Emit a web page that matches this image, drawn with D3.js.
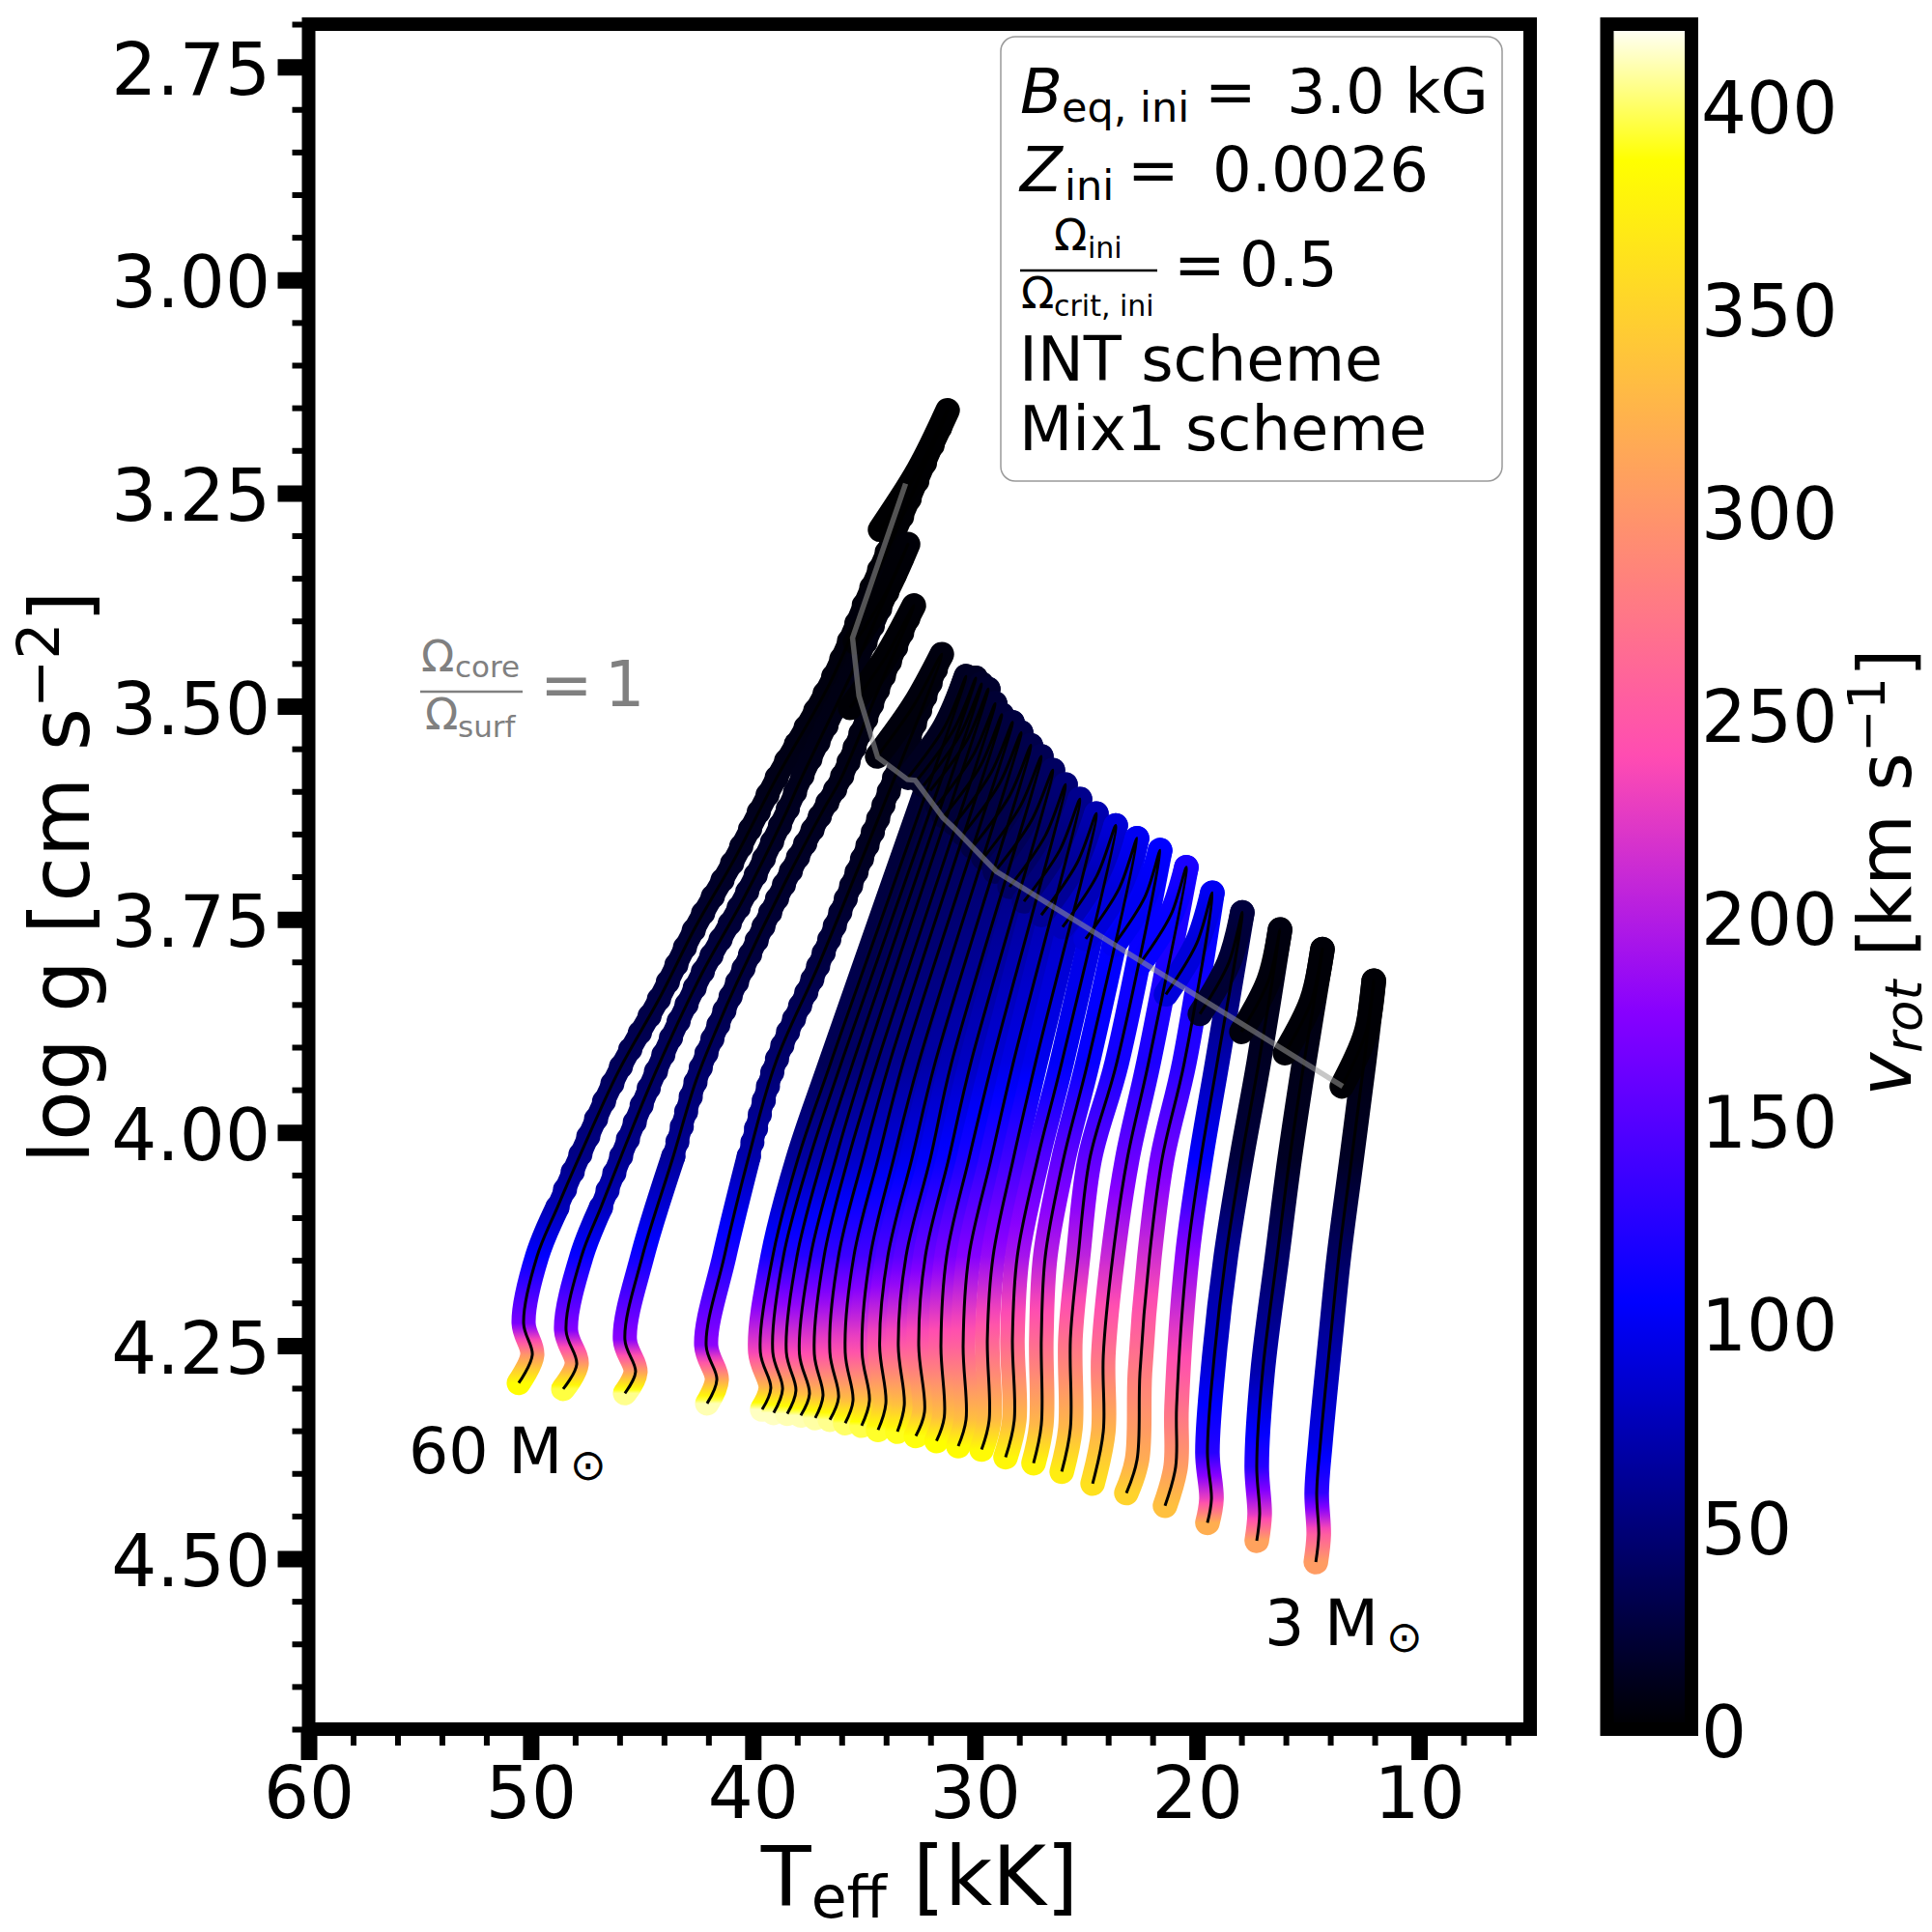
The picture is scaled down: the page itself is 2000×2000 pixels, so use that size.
<!DOCTYPE html>
<html>
<head>
<meta charset="utf-8">
<title>log g vs Teff tracks</title>
<style>
    body { margin: 0; background: #fff; }
    text { font-family: "DejaVu Sans", sans-serif; fill: #000; }
    .domain { display: none; }
</style>
</head>
<body>
<script src="https://cdn.jsdelivr.net/npm/d3@7"></script>
<script>
// values, one row per track, hot (60 Msun) to cool (3 Msun)
// each row runs from the start of the track to the turning point, the last
// two entries are the hook after the turning point
var trackTeff = [
    [50.54,49.93,50.32,49.71,48.80,47.80,46.06,44.19,42.58,40.84,38.97,36.49,34.75,33.53,31.23,32.53,34.27],
    [48.54,47.93,48.41,47.71,46.84,45.93,44.32,42.28,40.40,38.54,37.84,35.40,34.10,33.01,34.01,35.40],
    [45.76,45.28,45.76,44.97,43.58,42.58,41.62,40.71,38.53,36.79,36.05,34.31,32.75,34.01,35.62],
    [42.06,41.62,42.10,41.28,40.18,38.97,37.06,35.27,34.40,31.49,32.75,34.40],
    [39.58,39.19,39.66,39.10,37.97,36.49,30.40,31.36,33.01],
    [39.06,38.66,39.10,38.62,37.45,36.01,29.96,30.92,32.58],
    [38.45,38.06,38.49,38.01,36.88,35.49,29.70,30.66,32.31],
    [37.84,37.45,37.90,37.40,36.27,34.97,29.40,30.36,32.01],
    [37.19,36.84,37.23,36.79,35.71,34.40,29.09,30.05,31.70],
    [36.53,36.14,36.53,36.14,35.05,33.84,28.79,29.75,31.40],
    [35.84,35.49,35.84,35.45,34.36,33.23,28.31,29.27,30.92],
    [35.10,34.75,35.08,34.71,33.66,32.53,27.92,28.88,30.53],
    [34.36,34.01,34.29,33.92,32.84,31.79,27.48,28.44,30.10],
    [33.49,33.18,33.45,33.10,32.01,31.05,27.01,27.97,29.62],
    [32.66,32.27,32.53,32.23,31.18,30.18,26.49,27.45,29.10],
    [31.73,31.38,31.53,31.27,30.27,29.22,25.92,26.83,28.44],
    [30.75,30.40,30.53,30.27,29.27,28.27,25.27,26.18,27.79],
    [29.70,29.36,29.44,29.18,28.27,27.27,24.53,25.42,27.01],
    [28.62,28.23,28.31,28.09,27.18,26.09,23.66,24.51,26.05],
    [27.36,27.01,27.01,26.83,26.01,24.92,22.70,23.51,25.01],
    [26.09,25.70,25.70,25.35,24.83,23.61,21.66,22.35,23.74],
    [24.70,24.22,24.22,23.79,23.14,22.18,20.48,21.18,22.57],
    [23.18,22.70,22.57,22.14,21.57,20.57,19.31,20.01,21.40],
    [21.44,20.96,20.92,20.44,19.83,19.09,17.96,18.57,19.87],
    [19.53,19.35,19.53,19.22,18.70,18.00,17.22,16.26,16.78,18.00],
    [17.31,17.18,17.31,17.05,16.39,15.83,15.18,14.35,14.85,16.04],
    [14.65,14.52,14.61,14.44,13.99,13.61,13.04,12.48,12.04,12.41,13.48]
];
var trackLogg = [
    [4.294,4.261,4.224,4.145,4.088,4.028,3.929,3.842,3.759,3.680,3.586,3.471,3.366,3.293,3.153,3.222,3.293],
    [4.301,4.272,4.232,4.145,4.088,4.028,3.926,3.813,3.725,3.627,3.586,3.453,3.376,3.310,3.367,3.425],
    [4.306,4.281,4.243,4.145,4.028,3.941,3.878,3.824,3.706,3.620,3.586,3.478,3.382,3.442,3.502],
    [4.318,4.290,4.250,4.145,4.028,3.918,3.805,3.691,3.635,3.439,3.499,3.559],
    [4.325,4.300,4.258,4.145,4.031,3.918,3.465,3.524,3.584],
    [4.329,4.301,4.258,4.145,4.031,3.918,3.467,3.526,3.586],
    [4.330,4.303,4.258,4.145,4.031,3.918,3.474,3.533,3.593],
    [4.332,4.307,4.260,4.145,4.031,3.918,3.480,3.540,3.599],
    [4.335,4.309,4.260,4.145,4.031,3.918,3.497,3.556,3.616],
    [4.337,4.311,4.258,4.145,4.031,3.918,3.510,3.570,3.629],
    [4.341,4.315,4.258,4.145,4.031,3.918,3.519,3.578,3.638],
    [4.344,4.315,4.258,4.145,4.031,3.918,3.531,3.590,3.650],
    [4.349,4.318,4.250,4.145,4.031,3.918,3.546,3.605,3.665],
    [4.351,4.320,4.250,4.145,4.031,3.918,3.559,3.618,3.678],
    [4.356,4.328,4.250,4.145,4.031,3.918,3.575,3.634,3.694],
    [4.362,4.334,4.250,4.145,4.031,3.918,3.592,3.652,3.712],
    [4.368,4.337,4.250,4.145,4.031,3.918,3.609,3.669,3.729],
    [4.372,4.338,4.242,4.145,4.031,3.918,3.626,3.685,3.745],
    [4.381,4.338,4.242,4.145,4.031,3.918,3.640,3.699,3.759],
    [4.388,4.343,4.242,4.145,4.031,3.918,3.655,3.714,3.773],
    [4.398,4.347,4.242,4.145,4.031,3.918,3.669,3.724,3.780],
    [4.412,4.351,4.262,4.145,4.031,3.918,3.689,3.745,3.802],
    [4.423,4.384,4.282,4.145,4.031,3.918,3.719,3.778,3.838],
    [4.438,4.392,4.322,4.145,4.031,3.918,3.742,3.801,3.861],
    [4.458,4.430,4.376,4.262,4.145,4.031,3.918,3.762,3.822,3.882],
    [4.479,4.448,4.392,4.282,4.145,4.031,3.918,3.785,3.846,3.907],
    [4.504,4.472,4.423,4.363,4.242,4.145,4.031,3.918,3.822,3.884,3.946]
];
var trackVrot = [
    [385,300,170,105,75,55,38,28,20,15,10,6,4,2,1,1,1],
    [395,305,175,108,78,58,40,28,20,14,11,7,5,3,2,2],
    [405,310,178,112,62,45,36,28,18,12,10,6,3,2,2],
    [410,315,180,118,70,45,28,15,12,6,5,5],
    [412,330,235,115,62,36,14,13,13],
    [412,330,238,118,66,38,15,14,14],
    [410,332,240,120,70,42,17,15,15],
    [410,332,240,124,74,46,19,17,17],
    [408,332,242,128,78,50,22,19,19],
    [405,334,243,132,82,54,24,21,21],
    [400,335,245,136,87,58,26,23,23],
    [396,336,246,140,92,62,28,26,26],
    [392,336,248,146,97,68,31,28,28],
    [390,336,250,152,103,74,34,31,31],
    [388,335,252,160,108,80,40,36,36],
    [386,335,255,168,118,88,48,42,42],
    [384,334,256,176,128,94,58,50,50],
    [382,332,258,184,138,98,72,62,62],
    [380,330,260,192,148,102,88,76,76],
    [378,328,262,200,155,108,100,90,90],
    [372,328,268,205,155,115,105,100,100],
    [362,325,272,210,160,120,118,108,108],
    [350,318,280,215,165,125,100,90,90],
    [335,305,270,180,105,72,25,22,20],
    [320,230,125,85,62,25,15,6,5,5],
    [310,225,125,72,42,15,10,3,3,3],
    [305,255,130,95,65,40,15,8,2,2,2]
];
// the grey core/surface line
var equalTeff = [33.12,35.51,35.22,34.38,33.04,32.69,31.43,30.94,29.04,13.44];
var equalLogg = [3.239,3.420,3.488,3.560,3.586,3.587,3.631,3.643,3.694,3.946];

var xMajor = [60,50,40,30,20,10];
var xMinor = [58,56,54,52,48,46,44,42,38,36,34,32,28,26,24,22,18,16,14,12,8,6];
var yMajor = [2.75,3.00,3.25,3.50,3.75,4.00,4.25,4.50];
var yMinor = [2.70,2.80,2.85,2.90,2.95,3.05,3.10,3.15,3.20,3.30,3.35,3.40,3.45,3.55,3.60,3.65,3.70,3.80,3.85,3.90,3.95,4.05,4.10,4.15,4.20,4.30,4.35,4.40,4.45,4.55,4.60,4.65,4.70];
var cbarTicks = [0,50,100,150,200,250,300,350,400];

// gnuplot2 colour map, with vmax 420
var vmax = 420;
var mapStops = [0,0.25,0.42,0.57,0.92,1];
var mapColors = ["#000000","#0000ff","#8700ff","#ff4cb2","#ffff00","#ffffff"];

var svg = d3.select("body").append("svg").attr("width", 2000).attr("height", 2000);
var defs = svg.append("defs");

var left = 319.5, right = 1584, top_ = 25, bottom = 1790;
var x = d3.scaleLinear().domain([60,5]).range([left,right]);
var y = d3.scaleLinear().domain([2.7,4.7]).range([top_,bottom]);
var color = d3.scaleLinear().domain(mapStops.map(function(t){ return t*vmax; })).range(mapColors).clamp(true);

var line = d3.line().x(function(d){ return x(d.t); }).y(function(d){ return y(d.g); }).curve(d3.curveCatmullRom.alpha(0.5));

function addGradient(id, pts) {
    // stops along the vertical, colour follows vrot of each read point
    var y0 = y(pts[0].g), y1 = y(pts[pts.length-1].g);
    var grad = defs.append("linearGradient").attr("id", id).attr("gradientUnits","userSpaceOnUse")
        .attr("x1",0).attr("x2",0).attr("y1",y0).attr("y2",y1);
    for (var i = 0; i < pts.length-1; i++) {
        for (var k = 0; k < 6; k++) {
            var f = k/6;
            var yy = y(pts[i].g) + f*(y(pts[i+1].g)-y(pts[i].g));
            grad.append("stop").attr("offset",(yy-y0)/(y1-y0)).attr("stop-color",color(pts[i].v+f*(pts[i+1].v-pts[i].v)));
        }
    }
    grad.append("stop").attr("offset",1).attr("stop-color",color(pts[pts.length-1].v));
}

var tracks = trackTeff.map(function(row,i){
    return row.map(function(t,j){ return {t:t, g:trackLogg[i][j], v:trackVrot[i][j]}; });
});

var ribbons = svg.append("g").attr("fill","none").attr("stroke-linecap","round").attr("stroke-linejoin","round");
// the first tracks have few models per step: the markers show as beads
var beadGap = [20,19,16,15];

tracks.forEach(function(pts,i){
    var main = pts.slice(0,pts.length-2);
    var hook = pts.slice(pts.length-3);
    addGradient("main"+i, main);
    addGradient("hook"+i, hook);
    if (i < 4) {
        ribbons.append("path").attr("d",line(main.slice(0,5))).attr("stroke","url(#main"+i+")").attr("stroke-width",25);
        ribbons.append("path").attr("d",line(main.slice(4))).attr("stroke","url(#main"+i+")").attr("stroke-width",22.5);
        ribbons.append("path").attr("d",line(main.slice(4))).attr("stroke","url(#main"+i+")").attr("stroke-width",25).attr("stroke-dasharray","0 "+beadGap[i]);
    } else {
        ribbons.append("path").attr("d",line(main)).attr("stroke","url(#main"+i+")").attr("stroke-width",25.5);
    }
    ribbons.append("path").attr("d",line(hook)).attr("stroke","url(#hook"+i+")").attr("stroke-width",25.5);
});

svg.append("g").selectAll("path").data(tracks).join("path")
    .attr("d",line).attr("fill","none").attr("stroke","#000").attr("stroke-width",3);

svg.append("path")
    .attr("d",d3.line().x(function(d,i){ return x(equalTeff[i]); }).y(function(d,i){ return y(equalLogg[i]); })(equalTeff))
    .attr("fill","none").attr("stroke","#999").attr("stroke-opacity",0.55).attr("stroke-width",5.5);

// axes
function styleTicks(g, w) {
    g.selectAll("line").attr("stroke","#000").attr("stroke-width",w);
    g.selectAll("text").style("font-size","74px");
}
var gx = svg.append("g").attr("transform","translate(0,"+bottom+")");
gx.call(d3.axisBottom(x).tickValues(xMinor).tickSize(17));
styleTicks(gx,6);
gx.selectAll("text").remove();
var gx2 = svg.append("g").attr("transform","translate(0,"+bottom+")");
gx2.call(d3.axisBottom(x).tickValues(xMajor).tickSize(32).tickPadding(7).tickFormat(d3.format("d")));
styleTicks(gx2,17);

var gy = svg.append("g").attr("transform","translate("+left+",0)");
gy.call(d3.axisLeft(y).tickValues(yMinor).tickSize(17));
styleTicks(gy,6);
gy.selectAll("text").remove();
var gy2 = svg.append("g").attr("transform","translate("+left+",0)");
gy2.call(d3.axisLeft(y).tickValues(yMajor).tickSize(32).tickPadding(7.5).tickFormat(d3.format(".2f")));
styleTicks(gy2,17);
gy2.selectAll("text").attr("dy","0.38em");

svg.append("rect").attr("x",left).attr("y",top_).attr("width",right-left).attr("height",bottom-top_)
    .attr("fill","none").attr("stroke","#000").attr("stroke-width",14);

// colour bar
var cbarLeft = 1663.5, cbarRight = 1751;
var cbar = d3.scaleLinear().domain([0,vmax]).range([bottom,top_]);
var cbarGrad = defs.append("linearGradient").attr("id","cbarGrad").attr("x1",0).attr("x2",0).attr("y1",1).attr("y2",0);
mapStops.forEach(function(t,i){ cbarGrad.append("stop").attr("offset",t).attr("stop-color",mapColors[i]); });
svg.append("rect").attr("x",cbarLeft).attr("y",top_).attr("width",cbarRight-cbarLeft).attr("height",bottom-top_)
    .attr("fill","url(#cbarGrad)").attr("stroke","#000").attr("stroke-width",14);
var gc = svg.append("g").attr("transform","translate("+cbarRight+",0)");
gc.call(d3.axisRight(cbar).tickValues(cbarTicks).tickSize(0).tickPadding(10).tickFormat(d3.format("d")));
styleTicks(gc,0);
gc.selectAll("text").attr("dy","0.38em");

// axis labels
var xlab = svg.append("text").attr("x",952).attr("y",1972).attr("text-anchor","middle").style("font-size","85px");
xlab.append("tspan").text("T");
xlab.append("tspan").attr("dy",13).style("font-size","60px").text("eff");
xlab.append("tspan").attr("dy",-13).text(" [kK]");

var ylab = svg.append("text").attr("transform","translate(92,908) rotate(-90)").attr("text-anchor","middle").style("font-size","85px");
ylab.append("tspan").text("log g [cm s");
ylab.append("tspan").attr("dy",-31).style("font-size","60px").text("−2");
ylab.append("tspan").attr("dy",31).text("]");

var clab = svg.append("text").attr("transform","translate(1978,903) rotate(-90)").attr("text-anchor","middle").style("font-size","76px");
clab.append("tspan").style("font-style","italic").text("v");
clab.append("tspan").attr("dy",11).style("font-style","italic").style("font-size","53px").text("rot");
clab.append("tspan").attr("dy",-11).text(" [km s");
clab.append("tspan").attr("dy",-27).style("font-size","53px").text("−1");
clab.append("tspan").attr("dy",27).text("]");

// info box
svg.append("rect").attr("x",1036).attr("y",38).attr("width",519).attr("height",460).attr("rx",15)
    .attr("fill","#fff").attr("stroke","#999").attr("stroke-width",1.5);

function label(xp, yp, size, str, opts) {
    opts = opts || {};
    return svg.append("text").attr("x",xp).attr("y",yp).style("font-size",size+"px")
        .style("font-style",opts.italic ? "italic" : "normal").style("fill",opts.fill || "#000").text(str);
}
label(1056,117,64,"B",{italic:true});
label(1099,126,43,"eq, ini");
label(1247,117,64,"=");
label(1332,117,64,"3.0 kG");
label(1056,198,64,"Z",{italic:true});
label(1102,207,43,"ini");
label(1167,198,64,"=");
label(1255,198,64,"0.0026");
label(1091,259,45,"Ω");
label(1126,267,30,"ini");
svg.append("line").attr("x1",1056).attr("x2",1198).attr("y1",280).attr("y2",280).attr("stroke","#000").attr("stroke-width",2.5);
label(1057,319,45,"Ω");
label(1091,327,30,"crit, ini");
label(1215,296,64,"=");
label(1283,296,64,"0.5");
label(1055,394,64,"INT scheme");
label(1055,466,64,"Mix1 scheme");

// mass labels
label(423,1525,65,"60 M");
label(590,1532,45,"⊙");
label(1309,1703,65,"3 M");
label(1435,1710,45,"⊙");

// core/surface label
var grey = {fill:"#808080"};
label(436,695,45,"Ω",grey);
label(471,701,31,"core",grey);
svg.append("line").attr("x1",435).attr("x2",541).attr("y1",716).attr("y2",716).attr("stroke","#808080").attr("stroke-width",2.5);
label(440,755,45,"Ω",grey);
label(474,763,31,"surf",grey);
label(559,731,65,"=",grey);
label(626,731,65,"1",grey);
</script>
</body>
</html>
